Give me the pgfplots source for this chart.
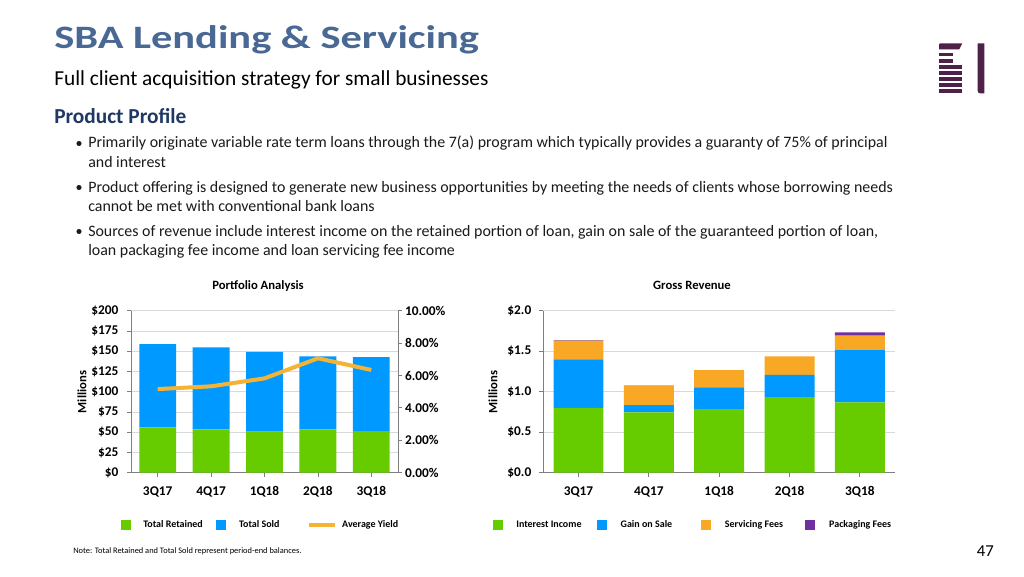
\documentclass[border=0pt]{standalone}
\usepackage{graphicx}
\usepackage{pgfplots}
\usepackage{pgfplotstable}
\pgfplotsset{compat=1.18}
\usepackage{fontspec}
\setmainfont{Carlito}
\definecolor{cgreen}{HTML}{66CC00}
\definecolor{cblue}{HTML}{0099FF}
\definecolor{corange}{HTML}{F9A825}
\definecolor{cpurple}{HTML}{7030A0}
\definecolor{cline}{HTML}{F5B335}
\definecolor{ctitle}{HTML}{4A6894}
\definecolor{cnavy}{HTML}{203864}
\definecolor{ctext}{HTML}{1A1A1A}
\definecolor{clogo}{HTML}{4F2149}
\definecolor{cgrid}{HTML}{D9D9D9}
\definecolor{caxis}{HTML}{7F7F7F}

\pgfplotstableread{
x ret sold
0 56.0 102.8
1 53.5 101.2
2 50.6 98.4
3 53.5 90.1
4 51.4 91.4
}\portfolio
\pgfplotstableread{
x yld
0 5.16
1 5.33
2 5.82
3 7.06
4 6.34
}\yieldtab
\pgfplotstableread{
x int gain serv pack
0 0.800 0.600 0.230 0.006
1 0.745 0.090 0.235 0.004
2 0.786 0.267 0.214 0.000
3 0.934 0.272 0.230 0.000
4 0.868 0.646 0.177 0.040
}\revenue

\pgfplotsset{
  basestyle/.style={scale only axis, height=121.5pt, anchor=south west,
    xmin=-0.5, xmax=4.5, xtick={0,1,2,3,4},
    xticklabels={3Q17,4Q17,1Q18,2Q18,3Q18},
    tick align=outside, major tick length=3pt,
    tick style={caxis, line width=0.6pt},
    axis line style={caxis, line width=0.75pt},
    ymajorgrids, grid style={cgrid, line width=0.6pt},
    ticklabel style={font=\bfseries\fontsize{10}{12}\selectfont, text=black},
    xticklabel style={yshift=-4pt},
    axis x line*=bottom, axis y line*=left},
  sqleg/.style={legend image code/.code={\fill[#1] (0pt,-3.4pt) rectangle (6.8pt,3.4pt); \path[draw=none,fill=none] (0pt,0pt) -- (16.9pt,0pt);}},
  sqlegR/.style={legend image code/.code={\fill[#1] (0pt,-3.4pt) rectangle (6.8pt,3.4pt); \path[draw=none,fill=none] (0pt,0pt) -- (17.7pt,0pt);}},
  legstyle/.style={legend style={draw=none, fill=none, inner sep=0pt, outer sep=0pt,
    font=\bfseries\fontsize{7.5}{9}\selectfont, text=black, legend columns=-1,
    nodes={inner sep=0pt}, /tikz/every even column/.append style={column sep=0pt}}},
}

\begin{document}
\begin{tikzpicture}[x=0.75pt,y=0.75pt]
\fill[white] (0,0) rectangle (1024,576);

% Title block
\node[anchor=base west, inner sep=0pt, text=ctitle, font=\bfseries\fontsize{24.5}{28}\selectfont] at (54,527) {\scalebox{1.3}[1]{SBA Lending \& Servicing}};
\node[anchor=base west, inner sep=0pt, text=black, font=\fontsize{16}{19}\selectfont] at (54,490) {Full client acquisition strategy for small businesses};
\node[anchor=base west, inner sep=0pt, text=cnavy, font=\bfseries\fontsize{16}{19}\selectfont] at (54,452) {Product Profile};

% Bullets
\begin{scope}[every node/.style={anchor=base west, inner sep=0pt, text=ctext, font=\fontsize{11.95}{14}\selectfont}]
\node at (88,428) {Primarily originate variable rate term loans through the 7(a) program which typically provides a guaranty of 75\% of principal};
\node at (88,409) {and interest};
\node at (88,384) {Product offering is designed to generate new business opportunities by meeting the needs of clients whose borrowing needs};
\node at (88,365) {cannot be met with conventional bank loans};
\node at (88,340) {Sources of revenue include interest income on the retained portion of loan, gain on sale of the guaranteed portion of loan,};
\node at (88,321) {loan packaging fee income and loan servicing fee income};
\end{scope}
\fill[ctext] (79,432.5) circle (1.9pt);
\fill[ctext] (79,388.5) circle (1.9pt);
\fill[ctext] (79,344.5) circle (1.9pt);

% Logo
\fill[clogo] (939,526.7) -- (939,531.5) to[out=90,in=180] (941.5,532.7) -- (962.3,532.7) -- (959.3,526.7) -- cycle;
\fill[clogo] (939,520) rectangle (953.3,523.3);
\fill[clogo] (939,513.3) rectangle (953.3,516.7);
\fill[clogo] (939,507.3) rectangle (962.3,510.7);
\fill[clogo] (939,501.3) rectangle (962.3,504.7);
\fill[clogo] (939,495.3) rectangle (962.3,498.7);
\fill[clogo] (939,489.3) rectangle (962.3,492.7);
\fill[clogo] (939,483.3) rectangle (962.3,486.7);
\fill[clogo] (977.7,532.7) -- (984.3,532.7) -- (984.3,482.7) -- (980,482.7) to[out=180,in=-90] (977.7,485) -- cycle;

% Chart titles
\node[anchor=base, inner sep=0pt, font=\bfseries\fontsize{9.5}{11}\selectfont] at (258,287) {Portfolio Analysis};
\node[anchor=base, inner sep=0pt, font=\bfseries\fontsize{9.5}{11}\selectfont] at (692,287) {Gross Revenue};
\node[rotate=90, inner sep=0pt, font=\bfseries\fontsize{9.5}{11}\selectfont] at (82,184) {Millions};
\node[rotate=90, inner sep=0pt, font=\bfseries\fontsize{9.5}{11}\selectfont] at (493,184) {Millions};

% Left chart: bars
\begin{axis}[basestyle, at={(98.25pt,77.5pt)}, width=200.25pt,
  ymin=0, ymax=200, ytick={0,25,...,200},
  yticklabels={\$0,\$25,\$50,\$75,\$100,\$125,\$150,\$175,\$200},
  yticklabel style={xshift=-3pt},
  ybar stacked, bar width=0.69]
\addplot[fill=cgreen, draw=none] table[x=x,y=ret]{\portfolio};
\addplot[fill=cblue, draw=none] table[x=x,y=sold]{\portfolio};
\end{axis}
% Left chart: yield line
\begin{axis}[scale only axis, anchor=south west, at={(98.25pt,77.5pt)}, width=200.25pt, height=121.5pt,
  xmin=-0.5, xmax=4.5, ymin=0, ymax=10, axis x line=none, axis y line*=right,
  ytick={0,2,...,10}, yticklabels={0.00\%,2.00\%,4.00\%,6.00\%,8.00\%,10.00\%},
  tick align=outside, major tick length=3pt,
  tick style={caxis, line width=0.6pt}, axis line style={caxis, line width=0.75pt},
  ticklabel style={font=\bfseries\fontsize{10}{12}\selectfont, text=black},
  yticklabel style={xshift=-1.2pt},
  legstyle, legend style={at={(rel axis cs:-0.0393,-0.3228)}, anchor=west}]
\addlegendimage{sqleg=cgreen}
\addlegendimage{sqleg=cblue}
\addplot[cline, line width=3pt, line join=round,
  legend image code/.code={\draw[cline, line width=2.6pt] (0pt,0pt) -- (19.5pt,0pt); \path[draw=none] (0pt,0pt) -- (24.75pt,0pt);}]
  table[x=x,y=yld]{\yieldtab};
\legend{\makebox[54.7pt][l]{Total Retained},\makebox[51.35pt][l]{Total Sold},Average Yield}
\end{axis}

% Right chart
\begin{axis}[basestyle, at={(407.5pt,77.5pt)}, width=263.8pt,
  ymin=0, ymax=2, ytick={0,0.5,1,1.5,2},
  yticklabels={\$0.0,\$0.5,\$1.0,\$1.5,\$2.0},
  yticklabel style={xshift=-2.5pt},
  ybar stacked, bar width=0.71,
  legstyle, legend style={at={(rel axis cs:-0.1444,-0.3228)}, anchor=west}]
\addlegendimage{sqlegR=cgreen}
\addlegendimage{sqlegR=cblue}
\addlegendimage{sqlegR=corange}
\addlegendimage{sqlegR=cpurple}
\addplot[fill=cgreen, draw=none, forget plot] table[x=x,y=int]{\revenue};
\addplot[fill=cblue, draw=none, forget plot] table[x=x,y=gain]{\revenue};
\addplot[fill=corange, draw=none, forget plot] table[x=x,y=serv]{\revenue};
\addplot[fill=cpurple, draw=none, forget plot] table[x=x,y=pack]{\revenue};
\legend{\makebox[60.3pt][l]{Interest Income},\makebox[60.3pt][l]{Gain on Sale},\makebox[60.3pt][l]{Servicing Fees},Packaging Fees}
\end{axis}

% Footer
\node[anchor=base west, inner sep=0pt, font=\fontsize{6.3}{7.5}\selectfont] at (73,23) {Note: Total Retained and Total Sold represent period-end balances.};
\node[anchor=base east, inner sep=0pt, font=\fontsize{12.5}{14}\selectfont] at (994,20) {47};
\end{tikzpicture}
\end{document}
